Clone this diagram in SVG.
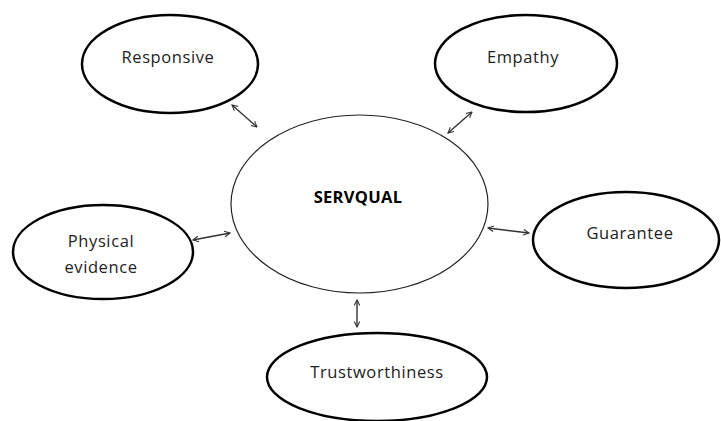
<svg xmlns="http://www.w3.org/2000/svg" width="721" height="421" viewBox="0 0 721 421">
<style>
.n{fill:#fff;stroke:#000;stroke-width:2.5}
.c{fill:#fff;stroke:#222;stroke-width:1.2}
.t{font-family:"Open Sans","DejaVu Sans",sans-serif;font-size:16.5px;letter-spacing:0.6px;fill:#222;text-anchor:middle}
.b{font-weight:bold;fill:#000;letter-spacing:0.3px}
.a{stroke:#333;stroke-width:1.4;fill:none;marker-start:url(#h);marker-end:url(#h)}
</style>
<defs>
<marker id="h" viewBox="0 0 10 10" refX="9" refY="5" markerWidth="7" markerHeight="7" orient="auto-start-reverse" markerUnits="userSpaceOnUse">
<path d="M1,1 L9,5 L1,9" fill="none" stroke="#333" stroke-width="1.5"/>
</marker>
</defs>
<rect width="721" height="421" fill="#fff"/>
<g id="servqual"><ellipse class="c" cx="359.5" cy="204" rx="128.5" ry="89"/><text class="t b" x="358" y="203">SERVQUAL</text></g>
<g id="responsive"><ellipse class="n" cx="170" cy="64" rx="88" ry="49"/><text class="t" x="168" y="63">Responsive</text></g>
<g id="empathy"><ellipse class="n" cx="526" cy="63.5" rx="91" ry="48.5"/><text class="t" x="523" y="63">Empathy</text></g>
<g id="physical"><ellipse class="n" cx="103" cy="252" rx="90" ry="47"/><text class="t" x="101" y="247">Physical</text><text class="t" x="101" y="273">evidence</text></g>
<g id="guarantee"><ellipse class="n" cx="626" cy="240" rx="93" ry="48"/><text class="t" x="630" y="239">Guarantee</text></g>
<g id="trust"><ellipse class="n" cx="377" cy="377" rx="110" ry="44"/><text class="t" x="377" y="378">Trustworthiness</text></g>
<g id="connectors">
<line class="a" x1="232" y1="105" x2="257" y2="127"/>
<line class="a" x1="472" y1="112" x2="448" y2="133"/>
<line class="a" x1="193" y1="240" x2="230" y2="233"/>
<line class="a" x1="488" y1="228" x2="529" y2="233"/>
<line class="a" x1="357" y1="300" x2="357" y2="327"/>
</g>
</svg>
